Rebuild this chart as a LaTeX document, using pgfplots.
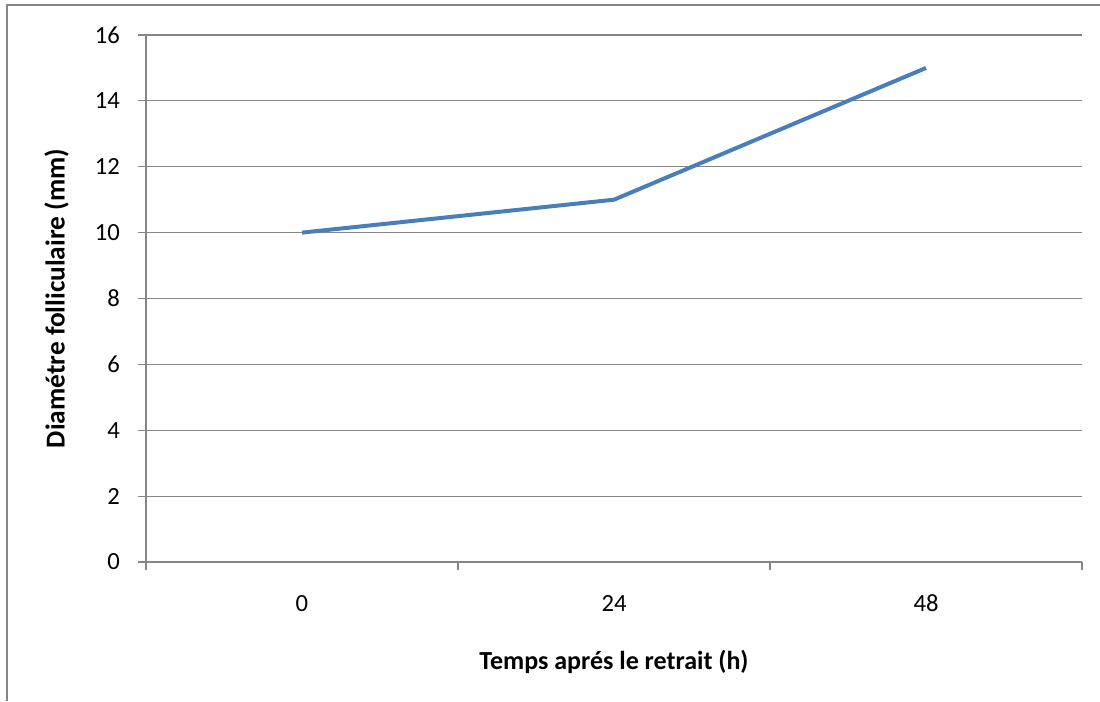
\documentclass[border=0pt]{standalone}
\usepackage{pgfplots}
\pgfplotsset{compat=1.18}
\usepackage{fontspec}
\setmainfont{Carlito}
\definecolor{gridgray}{RGB}{134,134,134}
\definecolor{framegray}{RGB}{134,134,134}
\definecolor{linecol}{RGB}{74,126,187}
\begin{document}
\begin{tikzpicture}
\useasboundingbox (0pt,0pt) rectangle (825pt,525.75pt);
\draw[framegray,line width=2.2pt] (5.25pt,0pt) -- (5.25pt,522pt) -- (826pt,522pt);
\begin{axis}[
  at={(109.5pt,104.25pt)}, anchor=south west,
  scale only axis, width=702pt, height=395.25pt,
  xmin=-0.5, xmax=2.5, ymin=0, ymax=16,
  axis lines*=left,
  axis line style={gridgray, line width=0.9pt},
  xtick={-0.5,0.5,1.5,2.5}, xticklabels={},
  extra x ticks={0,1,2}, extra x tick labels={0,24,48},
  extra x tick style={major tick length=0pt, grid=none},
  ytick={0,2,...,16},
  ymajorgrids, grid style={gridgray, line width=0.9pt},
  major tick length=6pt,
  tick align=outside,
  tick style={gridgray, line width=0.9pt},
  yticklabel style={anchor=east, xshift=-10pt},
  xticklabel style={anchor=center, yshift=-31pt},
  ticklabel style={font=\fontsize{18.5}{18.5}\selectfont},
  /pgf/number format/assume math mode=true,
  xlabel={\textbf{Temps aprés le retrait (h)}},
  ylabel={\textbf{Diamétre folliculaire (mm)}},
  xlabel style={font=\fontsize{19.5}{19.5}\selectfont, at={(axis description cs:0.5,0)}, anchor=center, yshift=-75pt},
  ylabel style={font=\fontsize{20.5}{20.5}\selectfont, at={(axis description cs:0,0.5)}, anchor=center, yshift=67pt},
  clip=false,
]
\addplot[linecol, line width=3pt, line join=round] coordinates {(0,10) (1,11) (2,15)};
\end{axis}
\end{tikzpicture}
\end{document}
